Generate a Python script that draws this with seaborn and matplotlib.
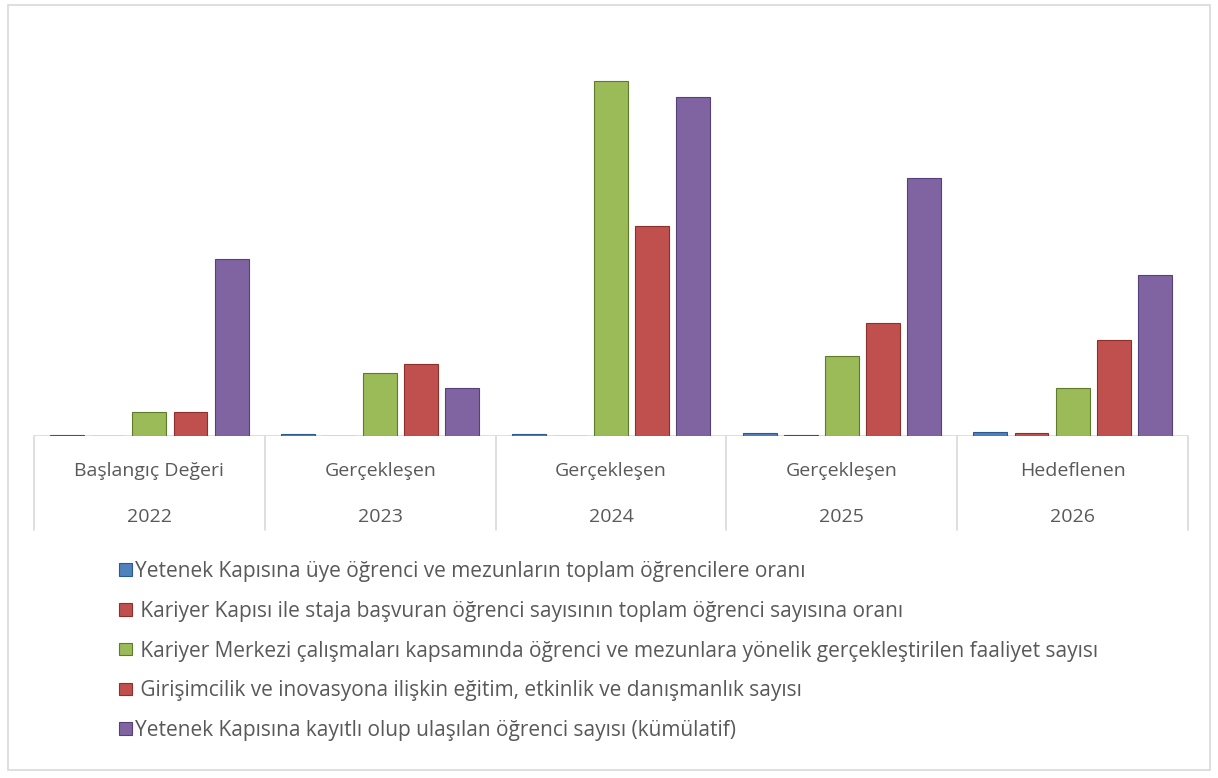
import matplotlib
matplotlib.use("Agg")
import matplotlib.pyplot as plt
from matplotlib.patches import Rectangle, Patch
import seaborn as sns
import pandas as pd

# ---- data ----
periods = ["Başlangıç Değeri", "Gerçekleşen", "Gerçekleşen", "Gerçekleşen", "Hedeflenen"]
years = ["2022", "2023", "2024", "2025", "2026"]
series = [
    "Yetenek Kapısına üye öğrenci ve mezunların toplam öğrencilere oranı",
    " Kariyer Kapısı ile staja başvuran öğrenci sayısının toplam öğrenci sayısına oranı",
    " Kariyer Merkezi çalışmaları kapsamında öğrenci ve mezunlara yönelik gerçekleştirilen faaliyet sayısı",
    " Girişimcilik ve inovasyona ilişkin eğitim, etkinlik ve danışmanlık sayısı",
    "Yetenek Kapısına kayıtlı olup ulaşılan öğrenci sayısı (kümülatif)",
]
yetenek_oran = [1, 2, 2, 3, 4]
staj_oran = [0.5, 0.5, 0.5, 1, 3]
faaliyet = [24, 63, 355, 80, 48]
girisim = [24, 72, 210, 113, 96]
ulasilan = [177, 48, 339, 258, 161]
colors = ["#4F81BD", "#C0504D", "#9BBB59", "#C0504D", "#8064A2"]
edges = ["#2C5A8F", "#8E2F2C", "#5E7A2A", "#8E2F2C", "#54407A"]

all_vals = [yetenek_oran, staj_oran, faaliyet, girisim, ulasilan]
rows = []
for s, vals in zip(series, all_vals):
    for y, v in zip(years, vals):
        rows.append({"year": y, "series": s, "value": v})
df = pd.DataFrame(rows)

sns.set_theme(style="white")
plt.rcParams["font.family"] = ["Open Sans", "DejaVu Sans"]
FS_CAT = 14
FS_LEG = 15

W, H = 1218, 778
fig = plt.figure(figsize=(W / 100, H / 100), dpi=100)
fig.patch.set_facecolor("white")

ax_left, ax_right = 34, 1188
base_y, top_y = 436, 60
ax = fig.add_axes([ax_left / W, (H - base_y) / H, (ax_right - ax_left) / W, (base_y - top_y) / H])

sns.barplot(data=df, x="year", y="value", hue="series", hue_order=series,
            order=years, palette=colors, width=0.89, ax=ax, legend=False,
            saturation=1, linewidth=0.8)

# narrow bars and set edge colours
n = len(years)
for i, p in enumerate(ax.patches[: n * len(series)]):
    si = i // n
    w = p.get_width()
    nw = w * 0.147 / 0.178
    p.set_x(p.get_x() + (w - nw) / 2)
    p.set_width(nw)
    p.set_edgecolor(edges[si])

ax.set_xlim(-0.5, n - 0.5)
ax.set_ylim(0, base_y - top_y)
for sp in ax.spines.values():
    sp.set_visible(False)
ax.set_xticks([])
ax.set_yticks([])
ax.set_xlabel("")
ax.set_ylabel("")

# baseline and category dividers
ax.axhline(0, color="#D9D9D9", lw=1.2, zorder=0)
for k in range(n + 1):
    ax.plot([k - 0.5, k - 0.5], [0, -94], color="#D9D9D9", lw=1.2, clip_on=False)
for k in range(n):
    ax.text(k, -35, periods[k], ha="center", va="center", fontsize=FS_CAT, color="#595959")
    ax.text(k, -81, years[k], ha="center", va="center", fontsize=FS_CAT, color="#595959")

# outer border
fig.patches.append(Rectangle((8 / W, (H - 770) / H), 1202 / W, 765 / H,
                             transform=fig.transFigure, fill=False,
                             edgecolor="#D9D9D9", lw=1.2))

handles = [Patch(facecolor=c, edgecolor=e, lw=0.8) for c, e in zip(colors, edges)]
fig.legend(handles, series, loc="upper left", bbox_to_anchor=(119 / W, (H - 561) / H),
           frameon=False, fontsize=FS_LEG, labelcolor="#595959",
           handlelength=0.6, handleheight=0.55, handletextpad=0.15, labelspacing=0.9,
           borderpad=0, borderaxespad=0)

fig.savefig("out.png", dpi=100)
